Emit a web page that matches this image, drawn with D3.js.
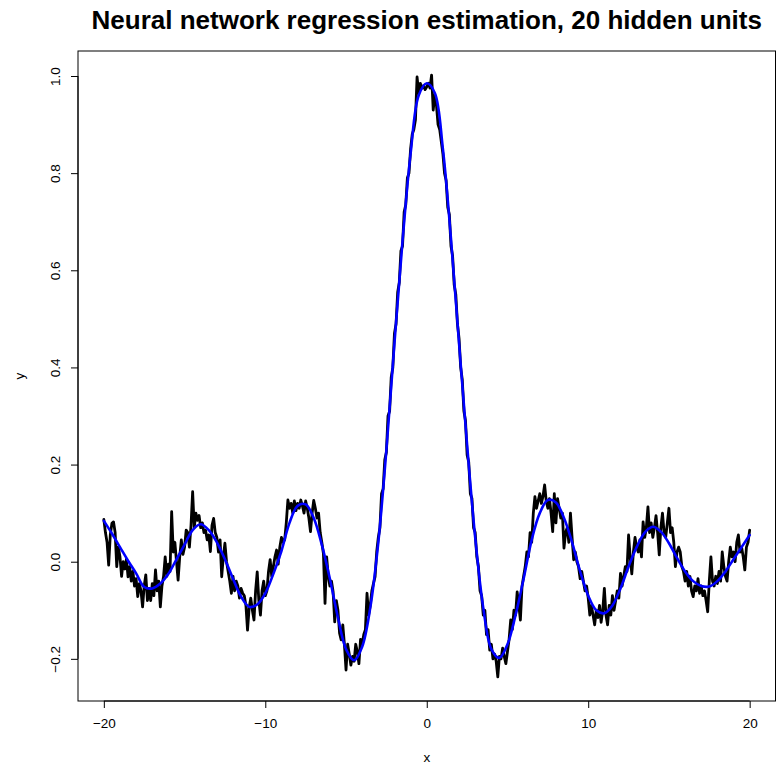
<!DOCTYPE html>
<html>
<head>
<meta charset="utf-8">
<script src="https://cdn.jsdelivr.net/npm/d3@7"></script>
<style>
  html, body { margin: 0; padding: 0; background: #fff; }
  svg { display: block; font-family: "Liberation Sans", Arial, Helvetica, sans-serif; }
</style>
</head>
<body>
<svg id="chart" width="776" height="765"></svg>
<script>
// ---------------- data ----------------
const titleText = "Neural network regression estimation, 20 hidden units";
const xLabel = "x";
const yLabel = "y";
const xTicks = [-20, -10, 0, 10, 20];
const yTicks = [-0.2, 0.0, 0.2, 0.4, 0.6, 0.8, 1.0];
const xLimits = [-21.6, 21.6];
const yLimits = [-0.2868, 1.0515];

// observed noisy sample: x grid -20..20 step 0.1
const obsX = d3.range(0, 401).map(i => -20 + i * 0.1);
const obsY = [
  0.087, 0.060, 0.040, -0.007, 0.055, 0.079, 0.082, 0.060, -0.010, 0.030,
  0.010, -0.030, 0.000, -0.015, 0.005, -0.031, -0.010, -0.040, -0.020, -0.050,
  -0.035, -0.072, -0.045, -0.060, -0.093, -0.050, -0.027, -0.080, -0.055, -0.080,
  -0.045, -0.070, -0.017, -0.060, -0.040, -0.093, -0.050, -0.030, 0.010, -0.030,
  -0.005, -0.020, 0.103, 0.020, 0.040, 0.000, -0.038, 0.010, 0.045, 0.015,
  0.030, 0.065, 0.060, 0.030, 0.075, 0.144, 0.070, 0.100, 0.085, 0.095,
  0.070, 0.080, 0.060, 0.065, 0.045, 0.055, 0.021, 0.075, 0.089, 0.060,
  0.050, 0.020, 0.045, -0.031, 0.010, 0.038, 0.000, -0.020, -0.040, -0.065,
  -0.030, -0.060, -0.040, -0.050, -0.075, -0.055, -0.065, -0.070, -0.090, -0.141,
  -0.095, -0.075, -0.100, -0.120, -0.060, -0.021, -0.080, -0.110, -0.060, -0.040,
  -0.070, -0.060, -0.020, 0.004, -0.030, -0.010, 0.010, 0.024, -0.005, 0.030,
  0.050, 0.040, 0.045, 0.080, 0.127, 0.110, 0.120, 0.100, 0.125, 0.105,
  0.120, 0.110, 0.127, 0.115, 0.100, 0.125, 0.110, 0.090, 0.062, 0.100,
  0.126, 0.110, 0.090, 0.100, 0.060, 0.040, 0.017, -0.086, 0.010, -0.030,
  -0.050, -0.040, -0.062, -0.124, -0.080, -0.100, -0.147, -0.161, -0.130, -0.170,
  -0.223, -0.170, -0.190, -0.213, -0.195, -0.205, -0.170, -0.185, -0.210, -0.160,
  -0.170, -0.150, -0.140, -0.065, -0.110, -0.090, -0.060, -0.045, -0.031, 0.020,
  0.050, 0.070, 0.140, 0.150, 0.210, 0.225, 0.300, 0.310, 0.380, 0.400,
  0.470, 0.490, 0.555, 0.575, 0.640, 0.650, 0.720, 0.735, 0.790, 0.800,
  0.850, 0.880, 0.890, 0.910, 0.998, 0.965, 0.985, 0.975, 0.980, 0.972,
  0.978, 0.985, 0.975, 1.002, 0.930, 0.960, 0.940, 0.900, 0.890, 0.865,
  0.840, 0.800, 0.785, 0.730, 0.715, 0.650, 0.630, 0.570, 0.550, 0.490,
  0.460, 0.400, 0.375, 0.310, 0.290, 0.220, 0.205, 0.140, 0.130, 0.070,
  0.060, 0.010, -0.010, -0.060, -0.070, -0.110, -0.100, -0.150, -0.140, -0.182,
  -0.170, -0.200, -0.190, -0.205, -0.237, -0.195, -0.200, -0.178, -0.195, -0.210,
  -0.185, -0.160, -0.120, -0.140, -0.100, -0.110, -0.062, -0.090, -0.120, -0.051,
  -0.030, -0.010, 0.020, 0.010, 0.060, 0.040, 0.100, 0.134, 0.110, 0.125,
  0.140, 0.120, 0.135, 0.158, 0.125, 0.110, 0.130, 0.100, 0.062, 0.140,
  0.080, 0.130, 0.110, 0.090, 0.100, 0.028, 0.060, 0.070, 0.040, 0.100,
  0.050, 0.004, 0.020, 0.000, -0.010, -0.035, -0.020, -0.040, -0.060, -0.050,
  -0.075, -0.110, -0.090, -0.110, -0.130, -0.100, -0.115, -0.090, -0.125, -0.100,
  -0.055, -0.110, -0.130, -0.090, -0.110, -0.070, -0.100, -0.080, -0.060, -0.075,
  -0.024, -0.050, -0.030, -0.010, -0.020, 0.055, 0.010, -0.025, 0.020, 0.050,
  0.030, 0.020, 0.045, 0.010, 0.082, 0.050, 0.070, 0.113, 0.060, 0.080,
  0.050, 0.070, 0.095, 0.060, 0.014, 0.070, 0.100, 0.060, 0.050, 0.080,
  0.110, 0.060, 0.070, 0.040, -0.010, 0.020, 0.030, 0.020, -0.010, -0.020,
  -0.040, -0.020, -0.050, -0.030, -0.060, -0.072, -0.050, -0.060, -0.035, -0.065,
  -0.050, -0.070, -0.060, -0.080, -0.103, -0.040, 0.010, -0.040, -0.050, -0.030,
  -0.045, -0.020, -0.040, 0.020, -0.010, -0.030, -0.040, 0.000, 0.030, 0.010,
  0.020, 0.000, 0.040, 0.055, 0.020, 0.030, 0.010, -0.017, 0.030, 0.040,
  0.065
];

// neural network fit: x grid -20..20 step 0.5
const fitX = d3.range(0, 81).map(i => -20 + i * 0.5);
const fitY = [
  0.084, 0.058, 0.030, 0.002, -0.024, -0.052, -0.055, -0.045, -0.025, 0.005,
  0.035, 0.065, 0.077, 0.065, 0.040, 0.005, -0.035, -0.072, -0.093, -0.088,
  -0.065, -0.025, 0.022, 0.080, 0.115, 0.118, 0.090, 0.035, -0.035, -0.115,
  -0.180, -0.203, -0.175, -0.095, 0.040, 0.230, 0.450, 0.660, 0.840, 0.960,
  0.985, 0.965, 0.850, 0.665, 0.450, 0.240, 0.050, -0.095, -0.180, -0.198,
  -0.170, -0.110, -0.035, 0.045, 0.100, 0.127, 0.122, 0.090, 0.040, -0.020,
  -0.070, -0.100, -0.106, -0.090, -0.055, -0.010, 0.030, 0.060, 0.072, 0.062,
  0.038, 0.008, -0.020, -0.040, -0.050, -0.051, -0.040, -0.020, 0.005, 0.030,
  0.055
];

// ---------------- layout ----------------
const plotLeft = 78, plotRight = 775.5, plotTop = 51, plotBottom = 701;
const svg = d3.select("#chart");

const x = d3.scaleLinear().domain(xLimits).range([plotLeft, plotRight]);
const y = d3.scaleLinear().domain(yLimits).range([plotBottom, plotTop]);

// clip
svg.append("clipPath").attr("id", "clip")
  .append("rect").attr("x", plotLeft).attr("y", plotTop)
  .attr("width", plotRight - plotLeft).attr("height", plotBottom - plotTop);

const line = d3.line().x(d => x(d[0])).y(d => y(d[1]));

const g = svg.append("g").attr("clip-path", "url(#clip)");
g.append("path")
  .datum(obsX.map((v, i) => [v, obsY[i]]))
  .attr("d", line)
  .attr("fill", "none").attr("stroke", "#000").attr("stroke-width", 2.8)
  .attr("stroke-linejoin", "round").attr("stroke-linecap", "round");

g.append("path")
  .datum(fitX.map((v, i) => [v, fitY[i]]))
  .attr("d", d3.line().curve(d3.curveCatmullRom.alpha(0.5)).x(d => x(d[0])).y(d => y(d[1])))
  .attr("fill", "none").attr("stroke", "#0000FF").attr("stroke-width", 2.6)
  .attr("stroke-linejoin", "round").attr("stroke-linecap", "round");

// box
svg.append("rect")
  .attr("x", plotLeft).attr("y", plotTop)
  .attr("width", plotRight - plotLeft).attr("height", plotBottom - plotTop)
  .attr("fill", "none").attr("stroke", "#000").attr("stroke-width", 1);

// x axis
const xAxis = d3.axisBottom(x).tickValues(xTicks).tickSize(7).tickPadding(10)
  .tickFormat(d => d3.format("d")(d).replace("-", "\u2212"));
const gx = svg.append("g").attr("transform", `translate(0,${plotBottom})`).call(xAxis);
gx.select(".domain").attr("d", `M${x(xTicks[0])},0H${x(xTicks[xTicks.length-1])}`).attr("stroke", "#000");
gx.selectAll(".tick line").attr("stroke", "#000");
gx.selectAll(".tick text").attr("font-size", 13.5).attr("fill", "#000")
  .attr("font-family", "Liberation Sans, Arial, sans-serif");

// y axis
const yAxis = d3.axisLeft(y).tickValues(yTicks).tickSize(7)
  .tickFormat(d => d3.format(".1f")(d).replace("-", "\u2212"));
const gy = svg.append("g").attr("transform", `translate(${plotLeft},0)`).call(yAxis);
gy.select(".domain").attr("d", `M0,${y(yTicks[0])}V${y(yTicks[yTicks.length-1])}`).attr("stroke", "#000");
gy.selectAll(".tick line").attr("stroke", "#000");
gy.selectAll(".tick text")
  .attr("x", null).attr("dy", null)
  .attr("text-anchor", "middle")
  .attr("transform", "translate(-18,0) rotate(-90)")
  .attr("font-size", 13.5).attr("fill", "#000")
  .attr("font-family", "Liberation Sans, Arial, sans-serif");

// title
svg.append("text")
  .attr("x", (plotLeft + plotRight) / 2).attr("y", 29)
  .attr("text-anchor", "middle")
  .attr("font-size", 26).attr("font-weight", "bold").attr("fill", "#000")
  .text(titleText);

// axis labels
svg.append("text")
  .attr("x", (plotLeft + plotRight) / 2).attr("y", 762)
  .attr("text-anchor", "middle").attr("font-size", 13.5).attr("fill", "#000")
  .text(xLabel);
svg.append("text")
  .attr("transform", `translate(24,${(plotTop + plotBottom) / 2}) rotate(-90)`)
  .attr("text-anchor", "middle").attr("font-size", 13.5).attr("fill", "#000")
  .text(yLabel);
</script>
</body>
</html>
